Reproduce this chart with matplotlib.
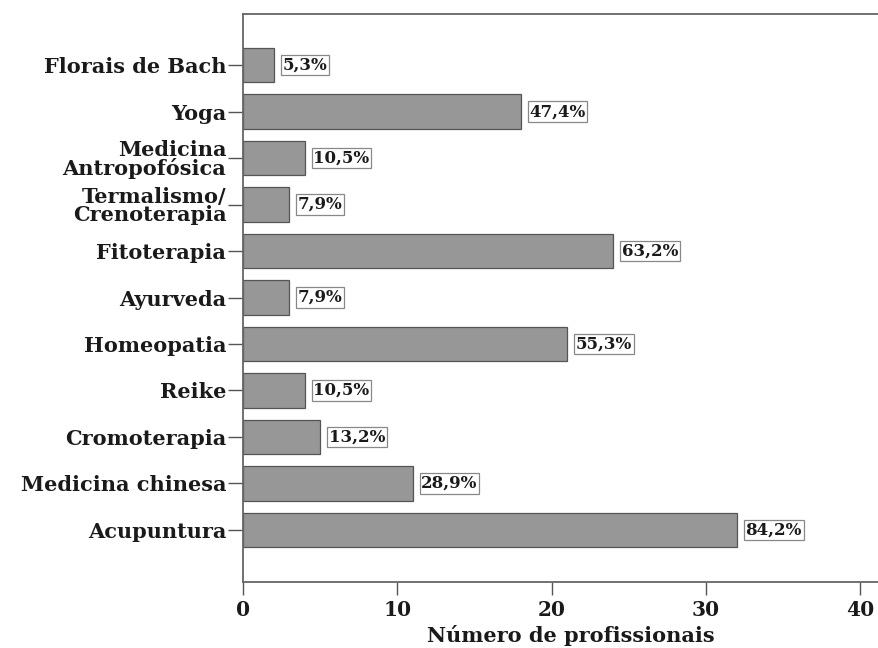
import matplotlib
matplotlib.use("Agg")
import matplotlib.pyplot as plt

# Terapias (de baixo para cima) e número de profissionais
terapias = ['Acupuntura', 'Medicina chinesa', 'Cromoterapia', 'Reike',
            'Homeopatia', 'Ayurveda', 'Fitoterapia', 'Termalismo/\nCrenoterapia',
            'Medicina\nAntropofósica', 'Yoga', 'Florais de Bach']
n_prof = [32, 11, 5, 4, 21, 3, 24, 3, 4, 18, 2]
percentuais = ['84,2%', '28,9%', '13,2%', '10,5%', '55,3%', '7,9%', '63,2%',
               '7,9%', '10,5%', '47,4%', '5,3%']

plt.rcParams['font.family'] = 'DejaVu Serif'
plt.rcParams['font.weight'] = 'bold'

fig = plt.figure(figsize=(8.79, 6.48), dpi=100)
ax = fig.add_axes([243 / 879, 1 - 582 / 648, (879 - 243) / 879, (582 - 14) / 648])

y = list(range(len(terapias)))
ax.barh(y, n_prof, height=0.74, color='#979797', edgecolor='#555555', linewidth=0.9)

for yi, v, p in zip(y, n_prof, percentuais):
    ax.text(v + 0.55, yi, p, va='center', ha='left', fontsize=12, fontweight='bold',
            color='#1a1a1a',
            bbox=dict(boxstyle='square,pad=0.1', facecolor='white',
                      edgecolor='#888888', linewidth=0.9))

ax.set_xlim(0, 41.2)
ax.set_ylim(-1.12, 11.1)
ax.set_xticks([0, 10, 20, 30, 40])
ax.set_yticks(y)
ax.set_yticklabels(terapias, fontsize=15, fontweight='bold', color='#1a1a1a',
                   linespacing=0.9)
ax.tick_params(axis='y', length=11, width=1, color='#555555', pad=1)
ax.tick_params(axis='x', length=9, width=1, color='#555555', labelsize=14.5,
               labelcolor='#1a1a1a', pad=4)
for lbl in ax.get_xticklabels():
    lbl.set_fontweight('bold')

ax.set_xlabel('Número de profissionais', fontsize=15, fontweight='bold',
              color='#1a1a1a', labelpad=5)
ax.xaxis.set_label_coords(0.515, -0.075)

ax.spines['right'].set_visible(False)
for s in ['left', 'top', 'bottom']:
    ax.spines[s].set_color('#666666')
    ax.spines[s].set_linewidth(1.3)

fig.savefig('out.png', dpi=100)
